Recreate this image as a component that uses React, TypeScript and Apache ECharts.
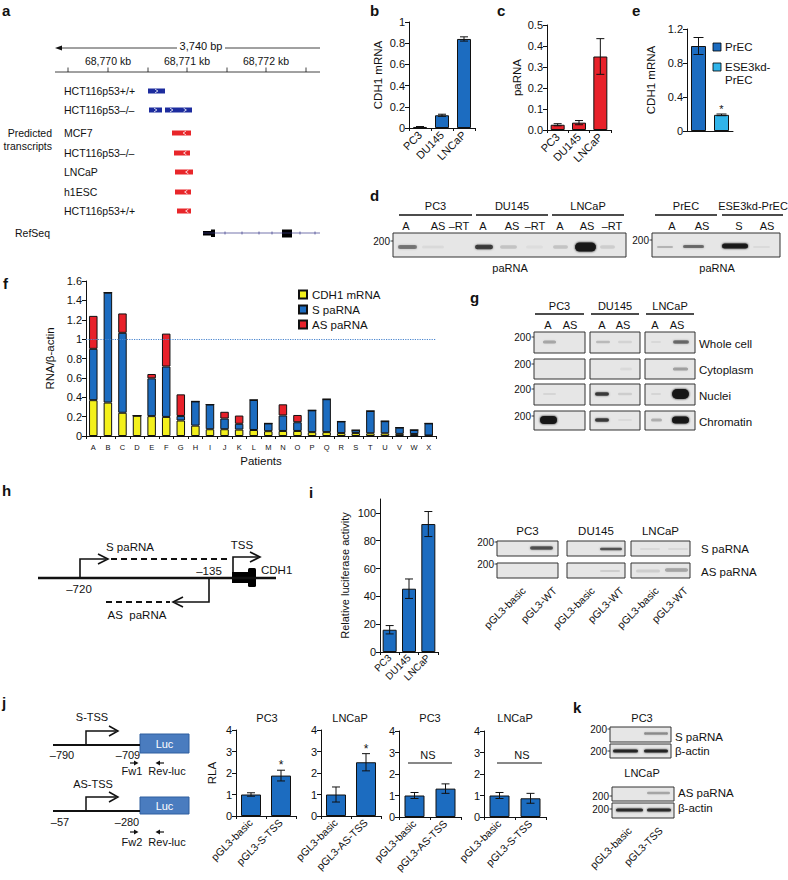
import React, { useEffect, useRef } from 'react';
import * as echarts from 'echarts';

const FONT = 'Liberation Sans, Arial, Helvetica, sans-serif';
const BLUE = '#1c6cc0';
const LIGHT_BLUE = '#31b4ea';
const RED = '#e8212a';
const YELLOW = '#f3f01c';
const INK = '#111111';
const GEL = '#e6e6e6';

// ---------- b: CDH1 mRNA in prostate cancer lines
const cellLines = ['PC3', 'DU145', 'LNCaP'];
const bCdh1 = [0.01, 0.12, 0.84];
const bCdh1Err = [0.004, 0.01, 0.02];
// ---------- c: paRNA
const cPaRNA = [0.025, 0.035, 0.35];
const cPaRNAErr = [0.005, 0.01, 0.085];
// ---------- e: CDH1 mRNA in PrEC
const eCells = ['PrEC', 'ESE3kd-PrEC'];
const eCdh1 = [1.0, 0.19];
const eCdh1Err = [0.1, 0.01];
const eSignif = [0, 1];
// ---------- f: patients
const patients = ['A', 'B', 'C', 'D', 'E', 'F', 'G', 'H', 'I', 'J', 'K', 'L', 'M', 'N', 'O', 'P', 'Q', 'R', 'S', 'T', 'U', 'V', 'W', 'X'];
const fCdh1 = [0.37, 0.345, 0.24, 0.21, 0.205, 0.197, 0.16, 0.107, 0.07, 0.07, 0.066, 0.062, 0.05, 0.052, 0.052, 0.04, 0.04, 0.03, 0.03, 0.028, 0.028, 0.022, 0.02, 0.005];
const fSpaRNA = [0.53, 1.135, 0.825, 0, 0.39, 0.52, 0.047, 0.25, 0.255, 0.11, 0.06, 0.31, 0.08, 0.16, 0.09, 0.225, 0.34, 0.12, 0.03, 0.23, 0.125, 0.065, 0.042, 0.125];
const fAsPaRNA = [0.34, 0, 0.2, 0, 0.045, 0.34, 0.223, 0, 0, 0.07, 0.085, 0, 0, 0.115, 0.075, 0, 0, 0, 0, 0, 0, 0, 0, 0];
const fThreshold = 1;
// ---------- i: luciferase
const iLuc = [16, 45.5, 92];
const iLucErr = [3, 7, 9];
const iTicks = [0, 20, 40, 60, 80, 100];
// ---------- j: RLA
const jCats1 = ['pGL3-basic', 'pGL3-S-TSS'];
const jVals1 = [1.0, 1.88];
const jErr1 = [0.08, 0.25];
const jSig1 = [0, 1];
const jCats2 = ['pGL3-basic', 'pGL3-AS-TSS'];
const jVals2 = [1.0, 2.5];
const jErr2 = [0.35, 0.4];
const jSig2 = [0, 1];
const jCats3 = ['pGL3-basic', 'pGL3-AS-TSS'];
const jVals3 = [1.0, 1.32];
const jErr3 = [0.14, 0.22];
const jCats4 = ['pGL3-basic', 'pGL3-S-TSS'];
const jVals4 = [1.0, 0.87];
const jErr4 = [0.14, 0.23];

// ---------- graphic helpers
const txt = (x: number, y: number, text: string, size = 11, align = 'left', extra: any = {}) => ({
  type: 'text', x, y, z: 20, silent: true, rotation: extra.rotation || 0,
  style: {
    text, fill: extra.fill || INK, fontSize: size, fontFamily: FONT, fontWeight: extra.bold ? 'bold' : 'normal',
    align, textAlign: align, verticalAlign: extra.va || 'middle', textVerticalAlign: extra.va || 'middle',
  },
});
const ln = (x1: number, y1: number, x2: number, y2: number, w = 1, color = INK, dash?: number[]) => ({
  type: 'line', z: 20, silent: true, shape: { x1, y1, x2, y2 },
  style: dash ? { stroke: color, lineWidth: w, lineDash: dash } : { stroke: color, lineWidth: w },
});
const pl = (points: number[][], w = 1.2, color = INK) => ({
  type: 'polyline', z: 20, silent: true, shape: { points }, style: { stroke: color, lineWidth: w, fill: null },
});
const pg = (points: number[][], color = INK) => ({
  type: 'polygon', z: 20, silent: true, shape: { points }, style: { fill: color },
});
const rc = (x: number, y: number, w: number, h: number, fill: string, stroke?: string, lw = 1, r = 0) => ({
  type: 'rect', z: 19, silent: true, shape: { x, y, width: w, height: h, r },
  style: stroke ? { fill, stroke, lineWidth: lw } : { fill },
});
const band = (x1: number, x2: number, cy: number, h: number, a: number) => ({
  type: 'rect', z: 21, silent: true, shape: { x: x1, y: cy - h / 2, width: x2 - x1, height: h, r: h / 2 },
  style: { fill: `rgba(20,20,20,${a})`, shadowBlur: 2, shadowColor: `rgba(20,20,20,${a})` },
});
const marker = (x: number, y: number) => [txt(x - 3, y, '200', 10, 'right'), ln(x - 2.5, y, x, y, 0.8)];
const chev = (x: number, y: number, dir: number, color = '#ffffff') =>
  pl([[x - 1.4 * dir, y - 1.8], [x + 1.4 * dir, y], [x - 1.4 * dir, y + 1.8]], 0.8, color);
const letter = (x: number, y: number, s: string) => txt(x, y, s, 15, 'left', { bold: true });

function buildGraphic() {
  const g: any[] = [];
  // panel letters
  g.push(letter(2, 10, 'a'), letter(370, 10, 'b'), letter(497, 10, 'c'), letter(632, 10, 'e'),
    letter(370, 195, 'd'), letter(3, 283, 'f'), letter(470, 297, 'g'), letter(2, 490, 'h'),
    letter(309, 492, 'i'), letter(2, 702, 'j'), letter(573, 707, 'k'));

  // ---- a: genome browser
  g.push(pg([[55, 48], [62, 45.5], [62, 50.5]]), ln(60, 48, 177, 48, 0.8), txt(201, 46, '3,740 bp', 11, 'center'), ln(225, 48, 320, 48, 0.8));
  g.push(txt(108, 61, '68,770 kb', 10.5, 'center'), txt(187, 61, '68,771 kb', 10.5, 'center'), txt(266, 61, '68,772 kb', 10.5, 'center'));
  g.push(ln(55, 72, 320, 72, 0.8));
  [68, 108, 148, 187, 227, 266, 306].forEach((x) => g.push(ln(x, 67.5, x, 72, 0.8)));
  const rows = [
    ['HCT116p53+/+', 91], ['HCT116p53\u2013/\u2013', 110], ['MCF7', 133], ['HCT116p53\u2013/\u2013', 153],
    ['LNCaP', 172], ['h1ESC', 192], ['HCT116p53+/+', 211],
  ];
  rows.forEach(([s, y]) => g.push(txt(64, y as number, s as string, 10.5)));
  g.push(txt(52, 133, 'Predicted', 10.5, 'right'), txt(52, 146, 'transcripts', 10.5, 'right'));
  const navy = '#1d2c9e';
  [[148, 165, 91], [149, 162, 110], [165, 178, 110], [178, 192, 110]].forEach(([a, b, y]) => {
    g.push(rc(a, y - 2.5, b - a, 5, navy));
    g.push(chev((a + b) / 2, y, 1));
  });
  [[172, 191, 133], [174, 190, 153], [175, 193, 172], [175, 191, 192], [177, 191, 211]].forEach(([a, b, y]) => {
    g.push(rc(a, y - 2.5, b - a, 5, '#e8262a'));
    g.push(chev((a + b) / 2 + 3, y, -1));
  });
  g.push(txt(15, 233, 'RefSeq', 10.5));
  g.push(ln(203, 233, 320, 233, 0.7, '#3a3a8a'));
  [225, 242, 259, 272, 300, 315].forEach((x) => g.push(ln(x, 231.5, x, 234.5, 0.7, '#3a3a8a')));
  g.push(rc(203, 231, 10, 4.5, '#000'), rc(211, 229.5, 4, 7.5, '#000'), rc(282, 229.5, 10, 8, '#000'));

  // ---- e legend
  g.push(rc(713, 43, 8, 8, BLUE, '#000', 0.8), txt(725, 47, 'PrEC', 11.5));
  g.push(rc(713, 63, 8, 8, LIGHT_BLUE, '#000', 0.8), txt(725, 67, 'ESE3kd-', 11.5), txt(725, 80, 'PrEC', 11.5));

  // ---- d gels
  g.push(rc(393, 233, 233, 24, GEL, '#333', 1));
  [[399, 472, 'PC3'], [476, 548, 'DU145'], [552, 624, 'LNCaP']].forEach(([a, b, s]) => {
    g.push(ln(a as number, 215, b as number, 215, 1.3), txt(((a as number) + (b as number)) / 2, 206, s as string, 11, 'center'));
  });
  [[406, 'A'], [438, 'AS'], [459, '\u2013RT'], [483, 'A'], [512, 'AS'], [535, '\u2013RT'], [560, 'A'], [587, 'AS'], [612, '\u2013RT']]
    .forEach(([x, s]) => g.push(txt(x as number, 226, s as string, 11, 'center')));
  g.push(...marker(393, 241));
  g.push(band(398, 417, 247, 4, 0.45), band(422, 444, 247, 3, 0.05), band(475, 493, 247, 4.5, 0.7),
    band(500, 517, 247, 3.5, 0.14), band(526, 543, 247, 3, 0.04), band(553, 568, 247, 3.5, 0.14),
    band(575, 596, 247, 9, 0.96), band(600, 615, 247, 3.5, 0.1));
  g.push(txt(510, 268, 'paRNA', 11, 'center'));
  g.push(rc(652, 233, 128, 24, GEL, '#333', 1));
  g.push(ln(655, 215, 717, 215, 1.3), txt(686, 206, 'PrEC', 11, 'center'));
  g.push(ln(722, 215, 783, 215, 1.3), txt(753, 206, 'ESE3kd-PrEC', 11, 'center'));
  [[672, 'A'], [702, 'AS'], [739, 'S'], [767, 'AS']].forEach(([x, s]) => g.push(txt(x as number, 226, s as string, 11, 'center')));
  g.push(...marker(652, 240));
  g.push(band(657, 673, 247, 2, 0.2), band(683, 704, 246.5, 3, 0.5), band(722, 748, 246, 5, 0.93), band(753, 770, 247, 2, 0.05));
  g.push(txt(717, 268, 'paRNA', 11, 'center'));

  // ---- g fractionation gels
  const gCols = [[534, 585, 'PC3'], [590, 640, 'DU145'], [645, 695, 'LNCaP']];
  gCols.forEach(([a, b, s]) => {
    g.push(ln((a as number) + 1, 314, (b as number) - 1, 314, 1.3), txt(((a as number) + (b as number)) / 2, 306, s as string, 11, 'center'));
  });
  [[548, 'A'], [570, 'AS'], [602, 'A'], [623, 'AS'], [655, 'A'], [677, 'AS']].forEach(([x, s]) => g.push(txt(x as number, 325, s as string, 11, 'center')));
  const gRows = [[332, 353, 'Whole cell'], [359, 379, 'Cytoplasm'], [384, 405, 'Nuclei'], [411, 430, 'Chromatin']];
  gRows.forEach(([t, b, s]) => {
    gCols.forEach(([x1, x2]) => g.push(rc(x1 as number, t as number, (x2 as number) - (x1 as number), (b as number) - (t as number), GEL, '#333', 1)));
    g.push(...marker(534, (t as number) + 5));
    g.push(txt(699, ((t as number) + (b as number)) / 2 + 1, s as string, 11.5));
  });
  g.push(band(543, 556, 342, 3, 0.28), band(596, 610, 342, 2.5, 0.18), band(618, 632, 342, 2.5, 0.08), band(651, 661, 342, 2, 0.06), band(673, 689, 342, 3.5, 0.5));
  g.push(band(673, 688, 369, 3, 0.3), band(620, 632, 369, 3, 0.05));
  g.push(band(543, 556, 394, 2, 0.07), band(595, 609, 394, 3.5, 0.72), band(618, 632, 394, 2.5, 0.1), band(651, 661, 394, 2, 0.07), band(672, 689, 394, 10, 0.98));
  g.push(band(540, 557, 420, 8, 0.98), band(595, 609, 420, 3.5, 0.72), band(618, 632, 420, 2, 0.05), band(651, 662, 420, 3, 0.22), band(672, 689, 420, 7, 0.98));

  // ---- h schematic
  g.push(ln(38, 578, 276, 578, 2.5));
  g.push(rc(232, 572, 21, 11, '#000'), rc(248, 568, 8, 19, '#000', undefined, 1, 1.5));
  g.push(pl([[233, 572], [233, 557], [258, 557]], 1.6), pl([[250, 552], [260, 557], [250, 562]], 1.6));
  g.push(txt(242, 545, 'TSS', 11.5, 'center'), txt(261, 570, 'CDH1', 11.5));
  g.push(pl([[80, 578], [80, 559], [106, 559]], 1.6), pl([[98, 554], [108, 559], [98, 564]], 1.6));
  g.push(ln(111, 559, 227, 559, 2, INK, [6, 4]));
  g.push(txt(106, 547, 'S paRNA', 11.5), txt(79, 589, '\u2013720', 11.5, 'center'), txt(209, 571, '\u2013135', 11.5, 'center'));
  g.push(pl([[209, 578], [209, 602], [175, 602]], 1.6), pl([[183, 597], [173, 602], [183, 607]], 1.6));
  g.push(ln(106, 602, 170, 602, 2, INK, [6, 4]));
  g.push(txt(137, 615, 'AS  paRNA', 11.5, 'center'));

  // ---- i gels
  const iCols = [[497, 558, 'PC3'], [567, 625, 'DU145'], [631, 690, 'LNCaP']];
  iCols.forEach(([a, b, s]) => {
    g.push(txt(((a as number) + (b as number)) / 2, 531, s as string, 11.5, 'center'));
    g.push(rc(a as number, 541, (b as number) - (a as number), 15, GEL, '#333', 1));
    g.push(rc(a as number, 563, (b as number) - (a as number), 15, GEL, '#333', 1));
  });
  g.push(...marker(497, 542), ...marker(497, 564));
  g.push(txt(701, 549, 'S paRNA', 11.5), txt(701, 572, 'AS paRNA', 11.5));
  g.push(band(530, 553, 548, 3.5, 0.6), band(600, 622, 549, 2.5, 0.6), band(640, 660, 549, 2, 0.06), band(668, 688, 549, 2, 0.06));
  g.push(band(600, 620, 571, 2, 0.1), band(636, 660, 571, 3, 0.1), band(665, 688, 570, 3.5, 0.28));
  [[524, 'pGL3-basic'], [555, 'pGL3-WT'], [593, 'pGL3-basic'], [622, 'pGL3-WT'], [657, 'pGL3-basic'], [686, 'pGL3-WT']]
    .forEach(([x, s]) => g.push(txt(x as number, 589, s as string, 10.5, 'right', { rotation: Math.PI / 4 })));

  // ---- j schematics
  g.push(txt(92, 717, 'S-TSS', 11, 'center'));
  g.push(ln(53, 745, 140, 745, 2));
  g.push(pl([[86, 745], [86, 731], [116, 731]], 1.5), pl([[109, 726], [118, 731], [109, 736]], 1.5));
  g.push(rc(140, 734, 49, 19, '#4a7cbf', '#2f5f9f', 1));
  g.push(txt(164.5, 743.5, 'Luc', 11, 'center', { fill: '#ffffff' }));
  g.push(txt(62, 755, '\u2013790', 11, 'center'), txt(128, 755, '\u2013709', 11, 'center'));
  g.push(ln(130, 763, 135, 763, 1.2), pg([[134, 760.5], [138.5, 763], [134, 765.5]]));
  g.push(ln(159, 763, 164, 763, 1.2), pg([[160, 760.5], [155.5, 763], [160, 765.5]]));
  g.push(txt(132, 771, 'Fw1', 11, 'center'), txt(167, 771, 'Rev-luc', 11, 'center'));

  g.push(txt(93, 784, 'AS-TSS', 11, 'center'));
  g.push(ln(53, 811, 140, 811, 2));
  g.push(pl([[86, 811], [86, 797], [116, 797]], 1.5), pl([[109, 792], [118, 797], [109, 802]], 1.5));
  g.push(rc(140, 797, 49, 17, '#4a7cbf', '#2f5f9f', 1));
  g.push(txt(164.5, 805.5, 'Luc', 11, 'center', { fill: '#ffffff' }));
  g.push(txt(60, 822, '\u201357', 11, 'center'), txt(127, 822, '\u2013280', 11, 'center'));
  g.push(ln(130, 832, 135, 832, 1.2), pg([[134, 829.5], [138.5, 832], [134, 834.5]]));
  g.push(ln(159, 832, 164, 832, 1.2), pg([[160, 829.5], [155.5, 832], [160, 834.5]]));
  g.push(txt(132, 842, 'Fw2', 11, 'center'), txt(167, 842, 'Rev-luc', 11, 'center'));

  // j chart titles and NS
  g.push(txt(267, 718, 'PC3', 11, 'center'), txt(350, 718, 'LNCaP', 11, 'center'), txt(430, 718, 'PC3', 11, 'center'), txt(515, 718, 'LNCaP', 11, 'center'));
  g.push(txt(428, 755, 'NS', 11, 'center'), ln(408, 763, 452, 763, 1), txt(522, 755, 'NS', 11, 'center'), ln(497, 763, 542, 763, 1));

  // ---- k gels
  g.push(txt(642, 718, 'PC3', 11, 'center'));
  g.push(rc(610, 727, 61, 15, GEL, '#333', 1), rc(610, 744, 61, 14, GEL, '#333', 1));
  g.push(...marker(610, 729), ...marker(610, 751));
  g.push(txt(675, 737, 'S paRNA', 11.5), txt(675, 751, '\u03b2-actin', 11.5));
  g.push(band(644, 668, 733.5, 2.5, 0.38), band(613, 638, 751, 3, 0.85), band(644, 668, 751, 3, 0.85));
  g.push(txt(642, 773, 'LNCaP', 11, 'center'));
  g.push(rc(612, 787, 62, 14, GEL, '#333', 1), rc(612, 803, 62, 15, GEL, '#333', 1));
  g.push(...marker(612, 796), ...marker(612, 809));
  g.push(txt(678, 793, 'AS paRNA', 11.5), txt(678, 808, '\u03b2-actin', 11.5));
  g.push(band(647, 670, 793, 2.5, 0.25), band(616, 643, 810, 3, 0.82), band(647, 671, 810, 3, 0.82));
  g.push(txt(630, 829, 'pGL3-basic', 10.5, 'right', { rotation: Math.PI / 4 }), txt(661, 829, 'pGL3-TSS', 10.5, 'right', { rotation: Math.PI / 4 }));
  return g;
}

// ---------- axes / series helpers
const axisLine = { show: true, lineStyle: { color: INK, width: 1 } };
function catX(gridIndex: number, data: string[], opt: any = {}) {
  return {
    type: 'category', gridIndex, data,
    axisLine,
    axisTick: { show: opt.tick !== false, length: 3, lineStyle: { color: INK } },
    axisLabel: {
      show: opt.label !== false, rotate: opt.rotate ?? 45, fontSize: opt.size || 11, fontFamily: FONT, color: INK,
      margin: opt.margin ?? 5, interval: 0,
    },
    name: opt.name, nameLocation: 'middle', nameGap: opt.nameGap,
    nameTextStyle: { fontSize: 11.5, fontFamily: FONT, color: INK },
  };
}
function valY(gridIndex: number, max: number, interval: number, opt: any = {}) {
  const tick: any = { show: true, length: 4, lineStyle: { color: INK } };
  const label: any = { fontSize: opt.size || 11, fontFamily: FONT, color: INK, margin: 4, formatter: opt.fmt };
  if (opt.ticks) {
    tick.customValues = opt.ticks;
    label.customValues = opt.ticks;
  }
  return {
    type: 'value', gridIndex, min: 0, max, interval,
    splitLine: { show: false }, axisLine,
    axisTick: tick,
    axisLabel: label,
    name: opt.name, nameLocation: 'middle', nameGap: opt.nameGap, nameRotate: 90,
    nameTextStyle: { fontSize: opt.nameSize || 11.5, fontFamily: FONT, color: INK },
  };
}
const barItem = (color: string) => ({ color, borderColor: INK, borderWidth: 1 });
function bar(idx: number, data: any[], color: string, width: number, extra: any = {}) {
  return { type: 'bar', xAxisIndex: idx, yAxisIndex: idx, data, barWidth: width, itemStyle: barItem(color), ...extra };
}
function errSeries(idx: number, vals: number[], errs: number[], sig: number[] | null, cap: number, starSize = 12) {
  return {
    type: 'custom', xAxisIndex: idx, yAxisIndex: idx, z: 5, silent: true,
    encode: { x: 0, y: 1 },
    data: vals.map((v, i) => [i, v, errs[i], sig ? sig[i] : 0]),
    renderItem: (_p: any, api: any) => {
      const i = api.value(0), v = api.value(1), e = api.value(2), s = api.value(3);
      const top = api.coord([i, v + e]);
      const bot = api.coord([i, v - e]);
      const x = top[0];
      const st = { stroke: INK, lineWidth: 1 };
      const children: any[] = [
        { type: 'line', shape: { x1: x, y1: top[1], x2: x, y2: bot[1] }, style: st },
        { type: 'line', shape: { x1: x - cap, y1: top[1], x2: x + cap, y2: top[1] }, style: st },
        { type: 'line', shape: { x1: x - cap, y1: bot[1], x2: x + cap, y2: bot[1] }, style: st },
      ];
      if (s) {
        children.push({
          type: 'text', x, y: top[1] - 5,
          style: { text: '*', fill: INK, fontSize: starSize, fontFamily: FONT, align: 'center', textAlign: 'center', verticalAlign: 'middle', textVerticalAlign: 'middle' },
        });
      }
      return { type: 'group', children };
    },
  };
}

function buildOption() {
  const grids = [
    { left: 409, top: 22, width: 66, height: 106 }, // b
    { left: 547, top: 25, width: 64, height: 105 }, // c
    { left: 687, top: 29, width: 46, height: 102 }, // e
    { left: 86, top: 281, width: 350, height: 155 }, // f
    { left: 380, top: 499, width: 58, height: 153 }, // i
    { left: 236, top: 730, width: 60, height: 86 }, // j1
    { left: 321, top: 730, width: 60, height: 86 }, // j2
    { left: 399, top: 731, width: 62, height: 86 }, // j3
    { left: 484, top: 731, width: 62, height: 86 }, // j4
  ].map((g) => ({ ...g, containLabel: false }));

  const xAxis = [
    catX(0, cellLines),
    catX(1, cellLines),
    catX(2, eCells, { label: false, tick: false }),
    catX(3, patients, { rotate: 0, size: 7.5, margin: 7, name: 'Patients', nameGap: 19 }),
    catX(4, cellLines, { size: 10, margin: 4 }),
    catX(5, jCats1, { size: 10.5 }),
    catX(6, jCats2, { size: 10.5 }),
    catX(7, jCats3, { size: 10.5 }),
    catX(8, jCats4, { size: 10.5 }),
  ];
  const yAxis = [
    valY(0, 1, 0.2, { name: 'CDH1 mRNA', nameGap: 25 }),
    valY(1, 0.5, 0.1, { name: 'paRNA', nameGap: 24, fmt: (v: number) => v.toFixed(1) }),
    valY(2, 1.2, 0.4, { name: 'CDH1 mRNA', nameGap: 30 }),
    valY(3, 1.6, 0.2, { name: 'RNA/\u03b2-actin', nameGap: 30 }),
    valY(4, 110, 10, { name: 'Relative luciferase activity', nameGap: 30, nameSize: 11, ticks: iTicks }),
    valY(5, 4, 1, { name: 'RLA', nameGap: 18 }),
    valY(6, 4, 1),
    valY(7, 4, 1),
    valY(8, 4, 1),
  ];

  const series: any[] = [
    bar(0, bCdh1, BLUE, 14), errSeries(0, bCdh1, bCdh1Err, null, 4),
    bar(1, cPaRNA, RED, 14), errSeries(1, cPaRNA, cPaRNAErr, null, 4),
    bar(2, eCdh1.map((v, i) => (i === 0 ? v : '-')), BLUE, 15, { stack: 'e', name: eCells[0] }),
    bar(2, eCdh1.map((v, i) => (i === 1 ? v : '-')), LIGHT_BLUE, 15, { stack: 'e', name: eCells[1] }),
    errSeries(2, eCdh1, eCdh1Err, eSignif, 5, 11),
    bar(3, fCdh1, YELLOW, 8.5, {
      stack: 'f', name: 'CDH1 mRNA',
      markLine: {
        silent: true, symbol: 'none', label: { show: false },
        lineStyle: { type: 'dotted', color: '#4a86cf', width: 1.2 },
        data: [{ yAxis: fThreshold }],
      },
    }),
    bar(3, fSpaRNA, BLUE, 8.5, { stack: 'f', name: 'S paRNA' }),
    bar(3, fAsPaRNA, RED, 8.5, { stack: 'f', name: 'AS paRNA' }),
    bar(4, iLuc, BLUE, 14), errSeries(4, iLuc, iLucErr, null, 4),
    bar(5, jVals1, BLUE, 20), errSeries(5, jVals1, jErr1, jSig1, 4),
    bar(6, jVals2, BLUE, 20), errSeries(6, jVals2, jErr2, jSig2, 4),
    bar(7, jVals3, BLUE, 20), errSeries(7, jVals3, jErr3, null, 4),
    bar(8, jVals4, BLUE, 20), errSeries(8, jVals4, jErr4, null, 4),
  ];

  return {
    animation: false,
    backgroundColor: '#ffffff',
    textStyle: { fontFamily: FONT },
    grid: grids,
    xAxis,
    yAxis,
    legend: [{
      data: ['CDH1 mRNA', 'S paRNA', 'AS paRNA'], orient: 'vertical', left: 298, top: 288, padding: 0,
      itemWidth: 8, itemHeight: 8, itemGap: 2, icon: 'rect', selectedMode: false,
      textStyle: { fontSize: 11.5, fontFamily: FONT, color: INK, lineHeight: 13 },
    }],
    series,
    graphic: { elements: buildGraphic() },
  };
}

export default function App() {
  const ref = useRef<HTMLDivElement>(null);
  useEffect(() => {
    const chart = echarts.init(ref.current as HTMLDivElement, null, { renderer: 'svg', width: 788, height: 880 });
    chart.setOption(buildOption() as any);
    return () => chart.dispose();
  }, []);
  return <div ref={ref} style={{ position: 'absolute', left: 0, top: 0, width: 788, height: 880, background: '#fff' }} />;
}
